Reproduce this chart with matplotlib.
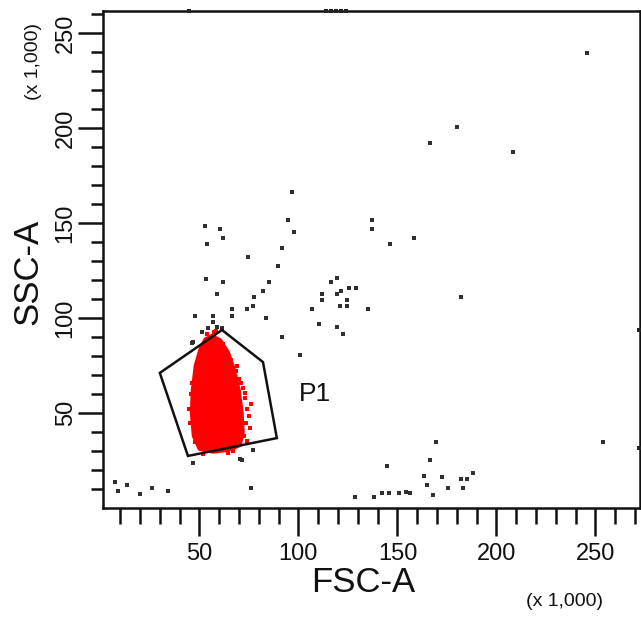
import matplotlib
matplotlib.use("Agg")
import matplotlib.pyplot as plt

plt.rcParams['font.family'] = ['Liberation Sans', 'DejaVu Sans']

# ---- data (values in thousands) ----
x_major = [50, 100, 150, 200, 250]
y_major = [50, 100, 150, 200, 250]
x_minor = list(range(10, 271, 10))
y_minor = list(range(10, 261, 10))

# P1 gate polygon
gate_x = [30.0, 61.4, 82.1, 89.1, 44.2]
gate_y = [71.1, 93.7, 76.8, 36.8, 27.4]

# dense red population (outline of the saturated core)
core_x = [56.3, 60.5, 64.5, 67.5, 70.0, 71.5, 72.0, 70.5, 65.0, 57.0, 50.0, 47.0, 46.0, 46.5, 48.0, 50.5, 53.0]
core_y = [90.5, 88.5, 82.0, 73.0, 62.0, 50.0, 40.0, 33.0, 30.5, 29.5, 31.0, 38.0, 50.0, 62.0, 75.0, 84.0, 89.0]

# sparse red events around the core
red_x = [72.5, 73.5, 74.2, 73.0, 71.8, 70.0, 68.5, 66.0, 63.5, 60.5, 57.5, 54.0,
         45.0, 44.8, 45.5, 46.0, 74.8, 75.5, 72.8, 71.0, 69.0, 62.0, 58.5, 48.0,
         52.0, 64.5, 67.0, 73.8, 75.8, 70.5]
red_y = [38.0, 45.0, 52.0, 58.0, 63.0, 68.0, 72.0, 78.0, 82.0, 88.0, 92.5, 91.5,
         45.0, 52.0, 60.0, 66.0, 48.5, 42.0, 60.5, 66.0, 75.0, 86.5, 93.0, 35.0,
         28.5, 29.0, 30.0, 35.5, 55.0, 56.0]

# other (black) events
blk_x = [96.6, 52.8, 60.4, 62.0, 53.9, 94.5, 97.7, 91.5, 74.7, 89.8, 53.3, 62.0,
         85.3, 82.2, 58.7, 77.5, 77.2, 74.1, 66.4, 66.4, 47.9, 57.0, 57.0, 83.6,
         91.5, 46.1, 51.1, 54.4, 58.7, 61.2,
         137.0, 137.0, 146.2, 119.3, 116.3, 125.7, 128.9, 121.3, 119.3, 111.7,
         111.7, 124.3, 121.0, 124.3, 107.0, 135.3, 110.4, 119.6, 122.6,
         180.2, 166.4, 208.5, 158.5, 181.9, 100.8, 245.7,
         253.6, 169.4, 166.4, 144.5, 163.4, 164.7, 172.3, 182.1, 184.9, 188.3,
         175.7, 183.2, 168.1, 128.5, 138.1, 142.0, 145.9, 150.9, 154.3, 156.3,
         7.3, 9.0, 13.5, 19.9, 25.8, 33.9, 46.6, 71.3, 76.0, 70.5, 77.2, 46.9]
blk_y = [166.5, 148.6, 146.8, 141.9, 138.8, 151.6, 145.1, 137.0, 132.3, 127.4, 120.7, 119.1,
         119.1, 114.4, 112.6, 111.2, 106.3, 104.6, 104.7, 101.2, 101.2, 101.2, 98.1, 99.8,
         90.2, 86.7, 92.8, 94.6, 95.4, 94.6,
         151.6, 146.7, 138.8, 120.9, 119.1, 115.9, 115.9, 114.2, 112.6, 112.6,
         109.5, 109.5, 106.3, 106.3, 104.6, 104.6, 96.7, 95.1, 91.6,
         200.4, 192.3, 187.5, 141.9, 111.2, 80.5, 239.5,
         34.9, 34.9, 25.3, 22.1, 17.0, 12.1, 16.5, 15.3, 15.3, 18.6,
         10.7, 10.7, 6.8, 6.0, 6.0, 7.7, 7.7, 7.7, 8.6, 8.1,
         13.9, 8.9, 12.1, 7.4, 10.7, 8.9, 23.5, 25.3, 10.7, 25.8, 30.5, 87.5]

# events piled on the plot edges (saturated)
edge_x = [44.5, 114.0, 116.5, 119.0, 121.5, 124.0, 272.0, 272.0]
edge_y = [261.6, 261.6, 261.6, 261.6, 261.6, 261.6, 93.7, 31.7]

XMIN, XMAX = 1.3, 272.5
YMIN, YMAX = 0.0, 261.6

W, H = 641, 618
fig = plt.figure(figsize=(W / 100, H / 100), dpi=100)
ax = fig.add_axes([103 / W, 110 / H, 537 / W, 497 / H])
ax.set_xlim(XMIN, XMAX)
ax.set_ylim(YMIN, YMAX)

for s in ax.spines.values():
    s.set_linewidth(1.8)
    s.set_color('#111111')

ax.set_xticks(x_major)
ax.set_xticks(x_minor, minor=True)
ax.set_yticks(y_major)
ax.set_yticks(y_minor, minor=True)
ax.set_xticklabels([str(v) for v in x_major], fontsize=17, color='#111111')
ax.set_yticklabels([str(v) for v in y_major], fontsize=17, rotation=90, va='center', color='#111111')
ax.tick_params(axis='x', which='major', length=20, width=1.8, pad=5, color='#111111')
ax.tick_params(axis='x', which='minor', length=11.5, width=1.8, color='#111111')
ax.tick_params(axis='y', which='major', length=18, width=1.8, pad=1, color='#111111')
ax.tick_params(axis='y', which='minor', length=9, width=1.8, color='#111111')

# red population
ax.fill(core_x, core_y, color='#ff0000', lw=0, zorder=2)
ax.plot(core_x + core_x[:1], core_y + core_y[:1], color='#ff0000', lw=2.5, zorder=2)
ax.scatter(red_x, red_y, s=5, color='#ff0000', marker='s', lw=0, zorder=2)

# other events
ax.scatter(blk_x, blk_y, s=7, color='#303030', marker='s', lw=0, zorder=3)
ax.scatter(edge_x, edge_y, s=9, color='#222222', marker='s', lw=0, zorder=4, clip_on=False)

# gate
ax.fill(gate_x, gate_y, facecolor='none', edgecolor='#111111', lw=1.8, zorder=5)
ax.text(100.0, 60.0, 'P1', fontsize=19, ha='left', va='center', color='#111111')

# axis titles
fig.text(363 / W, 1 - 583 / H, 'FSC-A', fontsize=25, ha='center', va='center', color='#111111')
fig.text(565 / W, 1 - 601 / H, '(x 1,000)', fontsize=14, ha='center', va='center', color='#111111')
fig.text(28 / W, 1 - 272 / H, 'SSC-A', fontsize=25, ha='center', va='center', rotation=90, color='#111111')
fig.text(33 / W, 1 - 62 / H, '(x 1,000)', fontsize=14, ha='center', va='center', rotation=90, color='#111111')

fig.savefig('out.png', dpi=100, facecolor='white')
